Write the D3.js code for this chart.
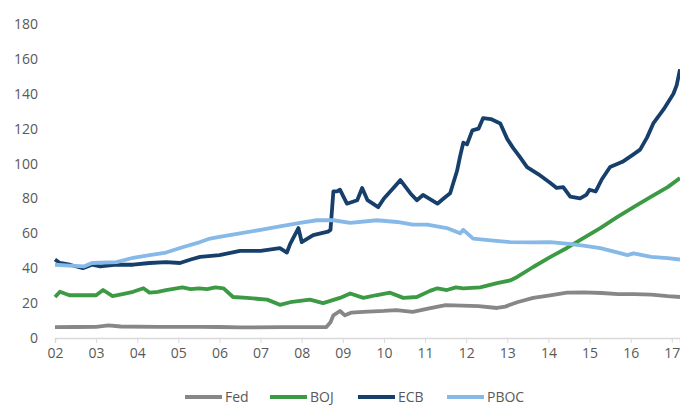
<!DOCTYPE html>
<html>
<head>
<meta charset="utf-8">
<script src="https://cdn.jsdelivr.net/npm/d3@7"></script>
<style>
body{margin:0;background:#fff;}
svg text{font-family:"Open Sans",sans-serif;fill:#595959;}
</style>
</head>
<body>
<svg id="chart" width="680" height="406"></svg>
<script>
// balance sheets, % of GDP, [year, value]
var fed=[[2002,6.2],[2002.5,6.3],[2003,6.4],[2003.3,7.2],[2003.6,6.6],[2004.5,6.4],[2005.5,6.4],[2006,6.3],[2006.5,6.1],
    [2007.5,6.2],[2008.6,6.3],[2008.7,9],[2008.77,13],[2008.93,15.5],[2009.05,13],[2009.2,14.5],[2009.5,15],[2010,15.5],
    [2010.3,16],[2010.7,15],[2011.1,17],[2011.5,18.8],[2011.9,18.6],[2012.3,18.3],[2012.75,17.2],[2012.95,18],[2013.24,20.5],
    [2013.63,23],[2014.04,24.5],[2014.45,26],[2014.85,26.2],[2015.3,25.8],[2015.7,25.2],[2016.1,25.1],[2016.5,24.9],[2016.9,24],[2017.2,23.5]];
var boj=[[2002,23.5],[2002.12,26.5],[2002.35,24.5],[2002.7,24.5],[2003,24.5],[2003.17,27.5],[2003.4,24],[2003.7,25.5],[2003.9,26.5],
    [2004.15,28.5],[2004.3,26],[2004.5,26.5],[2004.7,27.5],[2005.1,29],[2005.3,28],[2005.5,28.5],[2005.7,28],[2005.9,29],[2006.1,28.5],
    [2006.33,23.5],[2006.67,23],[2006.9,22.5],[2007.16,22],[2007.47,19],[2007.72,20.5],[2008.2,22],[2008.52,20],[2008.93,23],
    [2009.18,25.5],[2009.5,23],[2009.8,24.5],[2010.15,26],[2010.47,23],[2010.8,23.5],[2011.12,27],[2011.3,28.5],[2011.53,27.5],
    [2011.75,29],[2011.93,28.5],[2012.34,29],[2012.75,31.5],[2013.07,33],[2013.24,35],[2013.63,40.7],[2014.04,46.4],[2014.45,51.6],
    [2014.85,57.3],[2015.26,63],[2015.67,69.3],[2016.07,75],[2016.48,80.8],[2016.9,86.5],[2017.2,91.7]];
var ecb=[[2002,45],[2002.12,43],[2002.36,42],[2002.68,40],[2002.9,42],[2003.1,41],[2003.5,42],[2003.9,42],[2004.3,43],[2004.7,43.5],
    [2005.04,43],[2005.3,45],[2005.53,46.5],[2006,47.5],[2006.5,50],[2007,50],[2007.47,51.5],[2007.64,49],[2007.72,54],[2007.92,63],
    [2008,55],[2008.28,59],[2008.64,61],[2008.7,62],[2008.77,84],[2008.86,84],[2008.93,85],[2009.1,77],[2009.35,79],[2009.47,86],
    [2009.6,79],[2009.86,75],[2010,80],[2010.23,86],[2010.4,90.5],[2010.64,83],[2010.8,79],[2010.95,82],[2011.3,77],[2011.45,80],
    [2011.61,83],[2011.78,96],[2011.85,104],[2011.93,112],[2012.02,111],[2012.15,119],[2012.3,120],[2012.41,126],[2012.6,125.5],
    [2012.83,123],[2013,114],[2013.14,109],[2013.3,104],[2013.48,98],[2013.75,94],[2014.04,89],[2014.2,86],[2014.36,86.5],[2014.53,81],
    [2014.77,80],[2014.92,82],[2015,85],[2015.15,84],[2015.3,91],[2015.5,98],[2015.8,101],[2016.05,105],[2016.23,108],[2016.4,115],
    [2016.55,123],[2016.8,131],[2017.04,140],[2017.12,145],[2017.2,154]];
var pboc=[[2002,42],[2002.35,41.5],[2002.7,41],[2002.9,43],[2003.5,43.5],[2003.9,46],[2004.3,47.5],[2004.7,49],[2005.1,52],[2005.53,55],
    [2005.77,57],[2006,58],[2006.5,60],[2007,62],[2007.47,64],[2007.96,66],[2008.37,67.5],[2008.77,67.5],[2009.18,66],[2009.83,67.5],
    [2010.32,66.5],[2010.7,65],[2011.05,65],[2011.53,63],[2011.85,60],[2011.93,62],[2012.17,57],[2012.6,56],[2013.07,55],[2013.6,54.8],
    [2014.04,55],[2014.5,54],[2014.85,53],[2015.26,51.5],[2015.6,49.5],[2015.92,47.5],[2016.07,48.5],[2016.5,46.5],[2016.9,45.8],[2017.2,45]];

var seriesNames=["Fed","BOJ","ECB","PBOC"];
var seriesData=[fed,boj,ecb,pboc];
var seriesColors=["#878787","#3b9a43","#163f6b","#86b9e8"];
var yTicks=[0,20,40,60,80,100,120,140,160,180];
var xTicks=[2002,2003,2004,2005,2006,2007,2008,2009,2010,2011,2012,2013,2014,2015,2016,2017];

var svg=d3.select("#chart");
var x=d3.scaleLinear().domain([2002,2017.2]).range([55,680]);
var y=d3.scaleLinear().domain([0,180]).range([338,24]);

// y labels, no axis line
svg.append("g").selectAll("text").data(yTicks)
    .enter().append("text")
        .attr("x",38)
        .attr("y",function(d){return y(d)+5;})
        .attr("text-anchor","end")
        .style("font-size","14px")
        .text(function(d){return d;});

var xAxis=svg.append("g").attr("transform","translate(0,338)")
    .call(d3.axisBottom(x).tickValues(xTicks).tickSize(5).tickPadding(5)
        .tickFormat(function(d){return String(d).slice(2);}));
xAxis.select(".domain").attr("stroke","#d9d9d9").attr("stroke-width",1.5);
xAxis.selectAll(".tick line").attr("stroke","#d9d9d9");
xAxis.selectAll("text").style("font-size","14px").attr("fill","#595959");

var line=d3.line().x(function(d){return x(d[0]);}).y(function(d){return y(d[1]);});
seriesData.forEach(function(s,i){
    svg.append("path").datum(s)
        .attr("fill","none")
        .attr("stroke",seriesColors[i])
        .attr("stroke-width",3.8)
        .attr("stroke-linejoin","round")
        .attr("d",line);
});

// legend
var legendX=[185,270,358,447];
var legend=svg.append("g");
seriesNames.forEach(function(n,i){
    legend.append("line")
        .attr("x1",legendX[i]).attr("x2",legendX[i]+37)
        .attr("y1",397).attr("y2",397)
        .attr("stroke",seriesColors[i]).attr("stroke-width",4);
    legend.append("text")
        .attr("x",legendX[i]+40).attr("y",402)
        .style("font-size","14px")
        .text(n);
});
</script>
</body>
</html>
